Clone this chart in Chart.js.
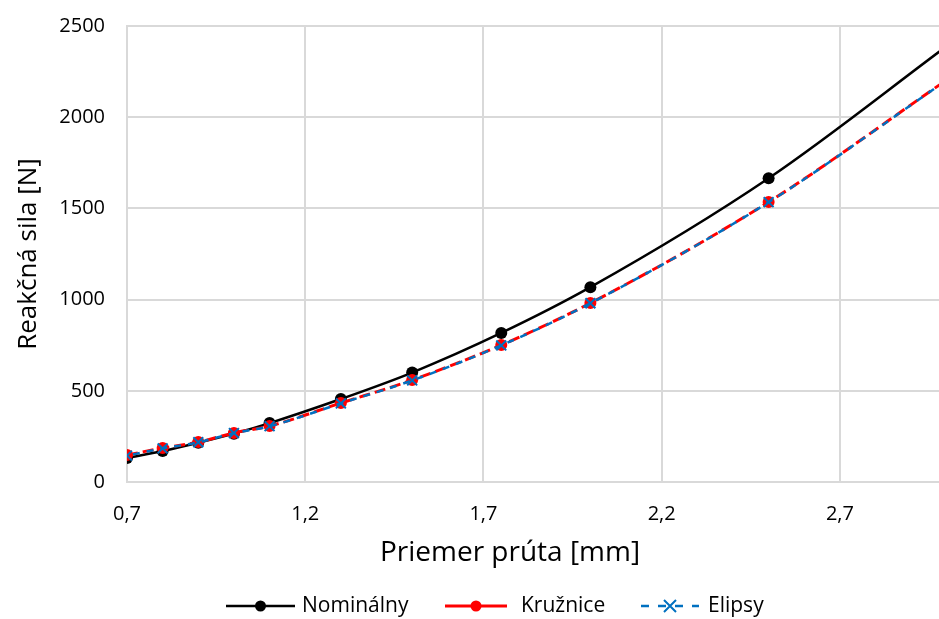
<!DOCTYPE html>
<html>
<head>
<meta charset="utf-8">
<script src="https://cdn.jsdelivr.net/npm/chart.js@4"></script>
<style>
  html, body { margin: 0; padding: 0; background: #fff; }
  #wrap { width: 939px; height: 619px; }
</style>
</head>
<body>
<div id="wrap"><canvas id="chart" width="939" height="619"></canvas></div>
<script>
// Data
const diameters = [0.7, 0.8, 0.9, 1.0, 1.1, 1.3, 1.5, 1.75, 2.0, 2.5, 3.0];
const nominalny = [131, 170, 215, 265, 323, 455, 600, 817, 1068, 1665, 2390];
const kruznice = [148, 186, 219, 269, 307, 433, 559, 751, 981, 1535, 2205];
const elipsy = [145, 184, 218, 268, 306, 431, 557, 749, 980, 1534, 2203];
const xTicks = [0.7, 1.2, 1.7, 2.2, 2.7];
const seriesNames = ['Nominálny', 'Kružnice', 'Elipsy'];
const xTitle = 'Priemer prúta [mm]';
const yTitle = 'Reakčná sila [N]';

const FONT = "'Open Sans', 'Noto Sans', sans-serif";

function points(ys) {
    return diameters.map((x, i) => ({ x: x, y: ys[i] }));
}

// Excel-like legend (line with marker) and the x axis title,
// which in the original is centred on the whole chart, not the plot
const legendPlugin = {
    id: 'excelLegend',
    afterDraw(chart) {
        const ctx = chart.ctx;
        const y = 606;
        const items = [
            { x: 226, len: 69, textX: 302, ds: chart.data.datasets[0] },
            { x: 445, len: 62, textX: 521, ds: chart.data.datasets[1] },
            { x: 641, len: 58, textX: 708, ds: chart.data.datasets[2] }
        ];
        ctx.save();
        items.forEach(function(it) {
            const ds = it.ds;
            ctx.strokeStyle = ds.borderColor;
            ctx.lineWidth = ds.borderWidth;
            ctx.setLineDash(ds.legendDash || []);
            ctx.beginPath();
            ctx.moveTo(it.x, y);
            ctx.lineTo(it.x + it.len, y);
            ctx.stroke();
            ctx.setLineDash([]);
            const mx = it.x + it.len / 2;
            if (ds.pointStyle === 'crossRot') {
                ctx.strokeStyle = ds.pointBorderColor;
                ctx.lineWidth = 2;
                const r = 6;
                ctx.beginPath();
                ctx.moveTo(mx - r, y - r); ctx.lineTo(mx + r, y + r);
                ctx.moveTo(mx + r, y - r); ctx.lineTo(mx - r, y + r);
                ctx.stroke();
            } else {
                ctx.fillStyle = ds.pointBackgroundColor;
                ctx.beginPath();
                ctx.arc(mx, y, 5.5, 0, Math.PI * 2);
                ctx.fill();
            }
            ctx.fillStyle = '#000';
            ctx.font = '21px ' + FONT;
            ctx.textBaseline = 'middle';
            ctx.textAlign = 'left';
            ctx.fillText(ds.label, it.textX, y);
        });

        ctx.fillStyle = '#000';
        ctx.font = '28px ' + FONT;
        ctx.textAlign = 'center';
        ctx.textBaseline = 'middle';
        ctx.fillText(xTitle, 510, 553);
        ctx.restore();
    }
};

const ctx = document.getElementById('chart').getContext('2d');
new Chart(ctx, {
    type: 'line',
    data: {
        datasets: [
            {
                label: seriesNames[0],
                data: points(nominalny),
                borderColor: '#000000',
                backgroundColor: '#000000',
                borderWidth: 2.5,
                pointRadius: 6,
                pointStyle: 'circle',
                pointBackgroundColor: '#000000',
                pointBorderColor: '#000000',
                pointBorderWidth: 0,
                cubicInterpolationMode: 'monotone',
                order: 3
            },
            {
                label: seriesNames[1],
                data: points(kruznice),
                borderColor: '#ff0000',
                backgroundColor: '#ff0000',
                borderWidth: 3,
                borderDash: [11, 5],
                legendDash: [],
                pointRadius: 6,
                pointStyle: 'circle',
                pointBackgroundColor: '#ff0000',
                pointBorderColor: '#ff0000',
                pointBorderWidth: 0,
                cubicInterpolationMode: 'monotone',
                order: 2
            },
            {
                label: seriesNames[2],
                data: points(elipsy),
                borderColor: '#0070c0',
                backgroundColor: '#0070c0',
                borderWidth: 2.5,
                borderDash: [7, 7],
                borderDashOffset: 8,
                legendDash: [8, 9],
                pointRadius: 7,
                pointStyle: 'crossRot',
                pointBackgroundColor: '#0070c0',
                pointBorderColor: '#0070c0',
                pointBorderWidth: 2,
                cubicInterpolationMode: 'monotone',
                order: 1
            }
        ]
    },
    options: {
        responsive: false,
        animation: false,
        layout: {
            autoPadding: false,
            padding: { top: 26, right: 0, left: 0, bottom: 30 }
        },
        plugins: {
            legend: { display: false },
            tooltip: { enabled: false }
        },
        scales: {
            x: {
                type: 'linear',
                min: 0.7,
                max: 2.978,
                afterBuildTicks(scale) {
                    scale.ticks = xTicks.map(v => ({ value: v }));
                },
                afterFit(scale) {
                    scale.height = 107;
                    scale.paddingLeft = 0;
                    scale.paddingRight = 0;
                },
                ticks: {
                    color: '#000',
                    font: { family: FONT, size: 20 },
                    padding: 20,
                    maxRotation: 0,
                    callback: v => String(v).replace('.', ',')
                },
                grid: { color: '#d9d9d9', lineWidth: 2, drawTicks: false },
                border: { color: '#d9d9d9', width: 2 },
                title: { display: false }
            },
            y: {
                min: 0,
                max: 2500,
                afterFit(scale) {
                    scale.width = 127;
                    scale.paddingTop = 0;
                    scale.paddingBottom = 0;
                },
                ticks: {
                    stepSize: 500,
                    color: '#000',
                    font: { family: FONT, size: 20 },
                    padding: 22,
                    callback: v => String(v)
                },
                grid: { color: '#d9d9d9', lineWidth: 2, drawTicks: false },
                border: { color: '#d9d9d9', width: 2 },
                title: {
                    display: true,
                    text: yTitle,
                    color: '#000',
                    font: { family: FONT, size: 26 },
                    padding: { top: 13, bottom: 0 }
                }
            }
        }
    },
    plugins: [legendPlugin]
});
</script>
</body>
</html>
